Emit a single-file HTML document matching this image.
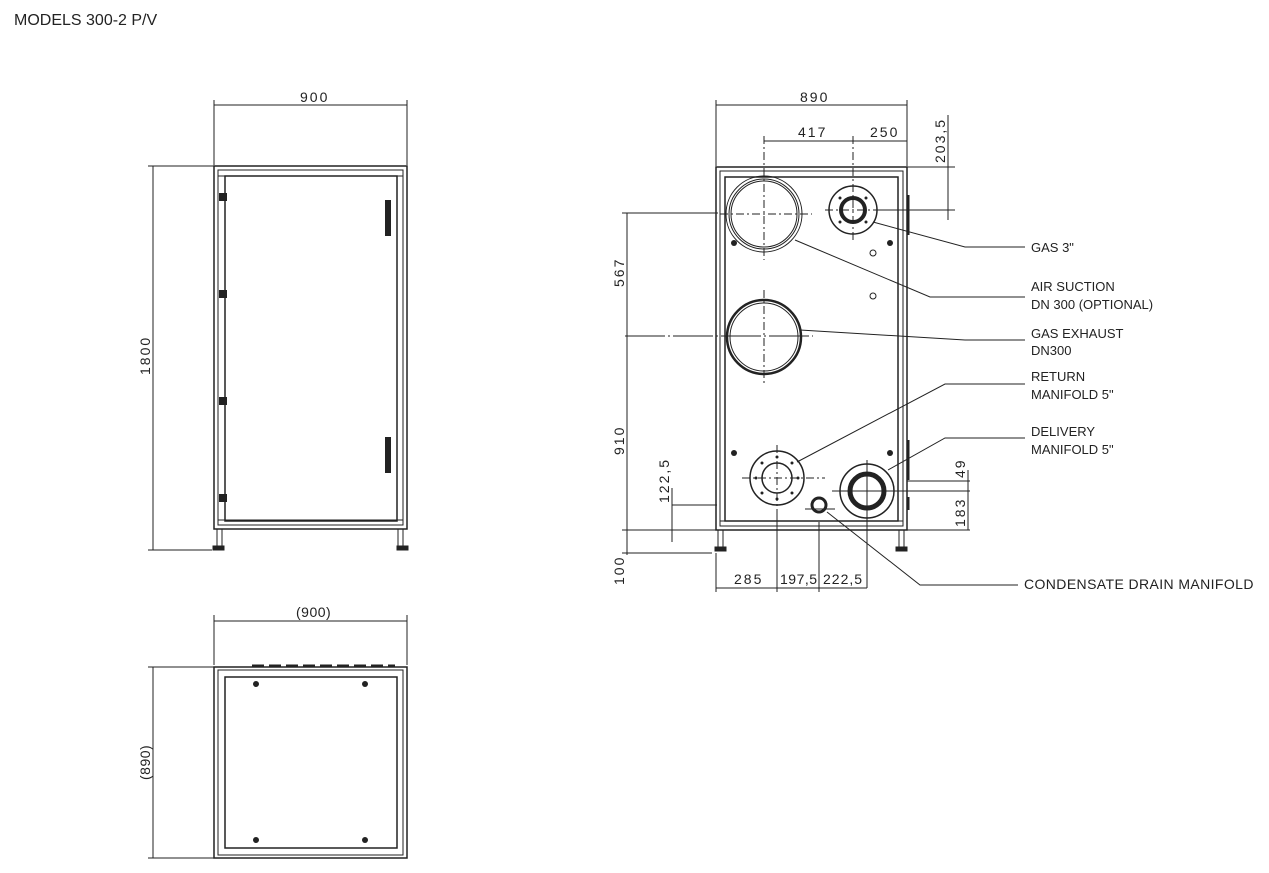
<!DOCTYPE html>
<html><head><meta charset="utf-8"><style>
html,body{margin:0;padding:0;background:#fff}
svg{display:block}
text{font-family:"Liberation Sans","DejaVu Sans",sans-serif;fill:#222}
.d{font-size:14px;letter-spacing:2px}
.l{font-size:13px;letter-spacing:0}
</style></head><body>
<svg width="1269" height="873" viewBox="0 0 1269 873" xmlns="http://www.w3.org/2000/svg">
<text x="14" y="25" style="font-size:16px">MODELS 300-2 P/V</text>
<g stroke="#222" fill="none" stroke-width="1">
<!-- FRONT VIEW -->
<line x1="214" y1="100" x2="214" y2="165"/><line x1="407" y1="100" x2="407" y2="165"/>
<line x1="214" y1="105" x2="407" y2="105"/>
<line x1="148" y1="166" x2="214" y2="166"/><line x1="148" y1="550" x2="212" y2="550"/>
<line x1="153" y1="166" x2="153" y2="550"/>
<rect x="214" y="166" width="193" height="363" stroke-width="1.5"/>
<rect x="218" y="170" width="185" height="355"/>
<rect x="225" y="176" width="172" height="345" stroke-width="1.5"/>
<line x1="218" y1="520" x2="403" y2="520"/><line x1="218" y1="176" x2="403" y2="176"/>
<line x1="217" y1="529" x2="217" y2="546"/><line x1="222" y1="529" x2="222" y2="546"/>
<rect x="213" y="546" width="11" height="4" fill="#222"/>
<line x1="398" y1="529" x2="398" y2="546"/><line x1="403" y1="529" x2="403" y2="546"/>
<rect x="397" y="546" width="11" height="4" fill="#222"/>
<!-- TOP VIEW -->
<line x1="214" y1="615" x2="214" y2="665"/><line x1="407" y1="615" x2="407" y2="665"/>
<line x1="214" y1="621" x2="407" y2="621"/>
<line x1="148" y1="667" x2="214" y2="667"/><line x1="148" y1="858" x2="214" y2="858"/>
<line x1="153" y1="667" x2="153" y2="858"/>
<rect x="214" y="667" width="193" height="191" stroke-width="1.5"/>
<rect x="218" y="670" width="185" height="185"/>
<rect x="225" y="677" width="172" height="171" stroke-width="1.5"/>
<line x1="252" y1="666" x2="395" y2="666" stroke-width="3" stroke-dasharray="12 5"/>
<!-- SIDE VIEW -->
<line x1="716" y1="100" x2="716" y2="166"/><line x1="907" y1="100" x2="907" y2="166"/>
<line x1="716" y1="105" x2="907" y2="105"/>
<line x1="764" y1="136" x2="764" y2="260" stroke-dasharray="8 3 2 3"/>
<line x1="853" y1="136" x2="853" y2="240" stroke-dasharray="8 3 2 3"/>
<line x1="764" y1="141" x2="907" y2="141"/>
<line x1="907" y1="167" x2="955" y2="167"/><line x1="880" y1="210" x2="955" y2="210"/>
<line x1="948" y1="115" x2="948" y2="220"/>
<rect x="716" y="167" width="191" height="363" stroke-width="1.5"/>
<rect x="720" y="171" width="183" height="355"/>
<rect x="725" y="177" width="173" height="344" stroke-width="1.5"/>
<line x1="720" y1="521" x2="903" y2="521"/>
<line x1="908" y1="195" x2="908" y2="235" stroke-width="3"/>
<line x1="908" y1="440" x2="908" y2="480" stroke-width="3"/>
<line x1="908" y1="497" x2="908" y2="510" stroke-width="3"/>
<line x1="718" y1="530" x2="718" y2="547"/><line x1="723" y1="530" x2="723" y2="547"/>
<rect x="715" y="547" width="11" height="4" fill="#222"/>
<line x1="899" y1="530" x2="899" y2="547"/><line x1="904" y1="530" x2="904" y2="547"/>
<rect x="896" y="547" width="11" height="4" fill="#222"/>
<!-- air suction -->
<circle cx="764" cy="214" r="38"/><circle cx="764" cy="214" r="35"/><circle cx="764" cy="214" r="33"/>
<line x1="720" y1="214" x2="812" y2="214" stroke-dasharray="8 3 2 3"/>
<!-- gas 3 -->
<circle cx="853" cy="210" r="24" stroke-width="1.5"/><circle cx="853" cy="210" r="12" stroke-width="4"/>
<line x1="825" y1="210" x2="881" y2="210" stroke-dasharray="8 3 2 3"/>
<!-- gas exhaust -->
<circle cx="764" cy="337" r="37" stroke-width="2.5"/><circle cx="764" cy="337" r="34"/>
<line x1="625" y1="336" x2="813" y2="336" stroke-dasharray="40 3 2 3"/>
<line x1="764" y1="290" x2="764" y2="385" stroke-dasharray="8 3 2 3"/>
<!-- return -->
<circle cx="777" cy="478" r="27" stroke-width="1.5"/><circle cx="777" cy="478" r="15" stroke-width="1.5"/>
<line x1="742" y1="478" x2="825" y2="478" stroke-dasharray="8 3 2 3"/>
<line x1="777" y1="445" x2="777" y2="512" stroke-dasharray="8 3 2 3"/>
<!-- delivery -->
<circle cx="867" cy="491" r="27" stroke-width="1.5"/><circle cx="867" cy="491" r="17" stroke-width="5"/>
<line x1="832" y1="491" x2="970" y2="491"/>
<line x1="867" y1="460" x2="867" y2="588"/>
<!-- condensate -->
<circle cx="819" cy="505" r="7" stroke-width="3"/>
<line x1="805" y1="509" x2="835" y2="509"/>
<line x1="819" y1="522" x2="819" y2="592"/>
<line x1="777" y1="512" x2="777" y2="592"/>
<!-- left dims -->
<line x1="622" y1="213" x2="718" y2="213"/>
<line x1="627" y1="213" x2="627" y2="555"/>
<line x1="622" y1="530" x2="970" y2="530"/>
<line x1="622" y1="553" x2="712" y2="553"/>
<line x1="672" y1="488" x2="672" y2="542"/><line x1="672" y1="505" x2="717" y2="505"/>
<line x1="716" y1="553" x2="716" y2="592"/>
<line x1="716" y1="588" x2="867" y2="588"/>
<line x1="907" y1="481" x2="970" y2="481"/>
<line x1="968" y1="470" x2="968" y2="530"/>
<!-- leaders -->
<polyline points="873,222 965,247 1025,247"/>
<polyline points="795,240 930,297 1025,297"/>
<polyline points="800,330 965,340 1025,340"/>
<polyline points="797,462 945,384 1025,384"/>
<polyline points="888,470 945,438 1025,438"/>
<polyline points="827,512 920,585 1018,585"/>
</g>
<g fill="#222">
<rect x="219" y="193" width="8" height="8"/><rect x="219" y="290" width="8" height="8"/><rect x="219" y="397" width="8" height="8"/><rect x="219" y="494" width="8" height="8"/>
<rect x="385" y="200" width="6" height="36"/><rect x="385" y="437" width="6" height="36"/>
<circle cx="256" cy="684" r="3"/><circle cx="365" cy="684" r="3"/><circle cx="256" cy="840" r="3"/><circle cx="365" cy="840" r="3"/>
<circle cx="734" cy="243" r="3"/><circle cx="890" cy="243" r="3"/><circle cx="734" cy="453" r="3"/><circle cx="890" cy="453" r="3"/>
<circle cx="777" cy="457" r="1.5"/><circle cx="777" cy="499" r="1.5"/><circle cx="756" cy="478" r="1.5"/><circle cx="798" cy="478" r="1.5"/>
<circle cx="762" cy="463" r="1.5"/><circle cx="792" cy="463" r="1.5"/><circle cx="762" cy="493" r="1.5"/><circle cx="792" cy="493" r="1.5"/>
<circle cx="840" cy="198" r="1.5"/><circle cx="866" cy="198" r="1.5"/><circle cx="840" cy="222" r="1.5"/><circle cx="866" cy="222" r="1.5"/>
</g>
<g stroke="#222" fill="none"><circle cx="873" cy="253" r="3"/><circle cx="873" cy="296" r="3"/></g>
<text class="d" x="300" y="102">900</text>
<text class="d" transform="translate(150,375) rotate(-90)">1800</text>
<text class="d" x="296" y="617" style="letter-spacing:0.5px">(900)</text>
<text class="d" transform="translate(150,780) rotate(-90)" style="letter-spacing:0.5px">(890)</text>
<text class="d" x="800" y="102">890</text>
<text class="d" x="798" y="137">417</text>
<text class="d" x="870" y="137">250</text>
<text class="d" transform="translate(945,163) rotate(-90)">203,5</text>
<text class="d" transform="translate(624,287) rotate(-90)">567</text>
<text class="d" transform="translate(624,455) rotate(-90)">910</text>
<text class="d" transform="translate(669,503) rotate(-90)">122,5</text>
<text class="d" transform="translate(624,585) rotate(-90)">100</text>
<text class="d" x="734" y="584">285</text>
<text class="d" x="780" y="584" style="letter-spacing:0.5px">197,5</text>
<text class="d" x="823" y="584" style="letter-spacing:1px">222,5</text>
<text class="d" transform="translate(965,478) rotate(-90)">49</text>
<text class="d" transform="translate(965,527) rotate(-90)">183</text>
<text class="l" x="1031" y="252">GAS 3"</text>
<text class="l" x="1031" y="291">AIR SUCTION</text>
<text class="l" x="1031" y="309">DN 300 (OPTIONAL)</text>
<text class="l" x="1031" y="338">GAS EXHAUST</text>
<text class="l" x="1031" y="355">DN300</text>
<text class="l" x="1031" y="381">RETURN</text>
<text class="l" x="1031" y="399">MANIFOLD 5"</text>
<text class="l" x="1031" y="436">DELIVERY</text>
<text class="l" x="1031" y="454">MANIFOLD 5"</text>
<text class="l" x="1024" y="589" style="font-size:14px;letter-spacing:0.4px">CONDENSATE DRAIN MANIFOLD</text>
</svg>
</body></html>
